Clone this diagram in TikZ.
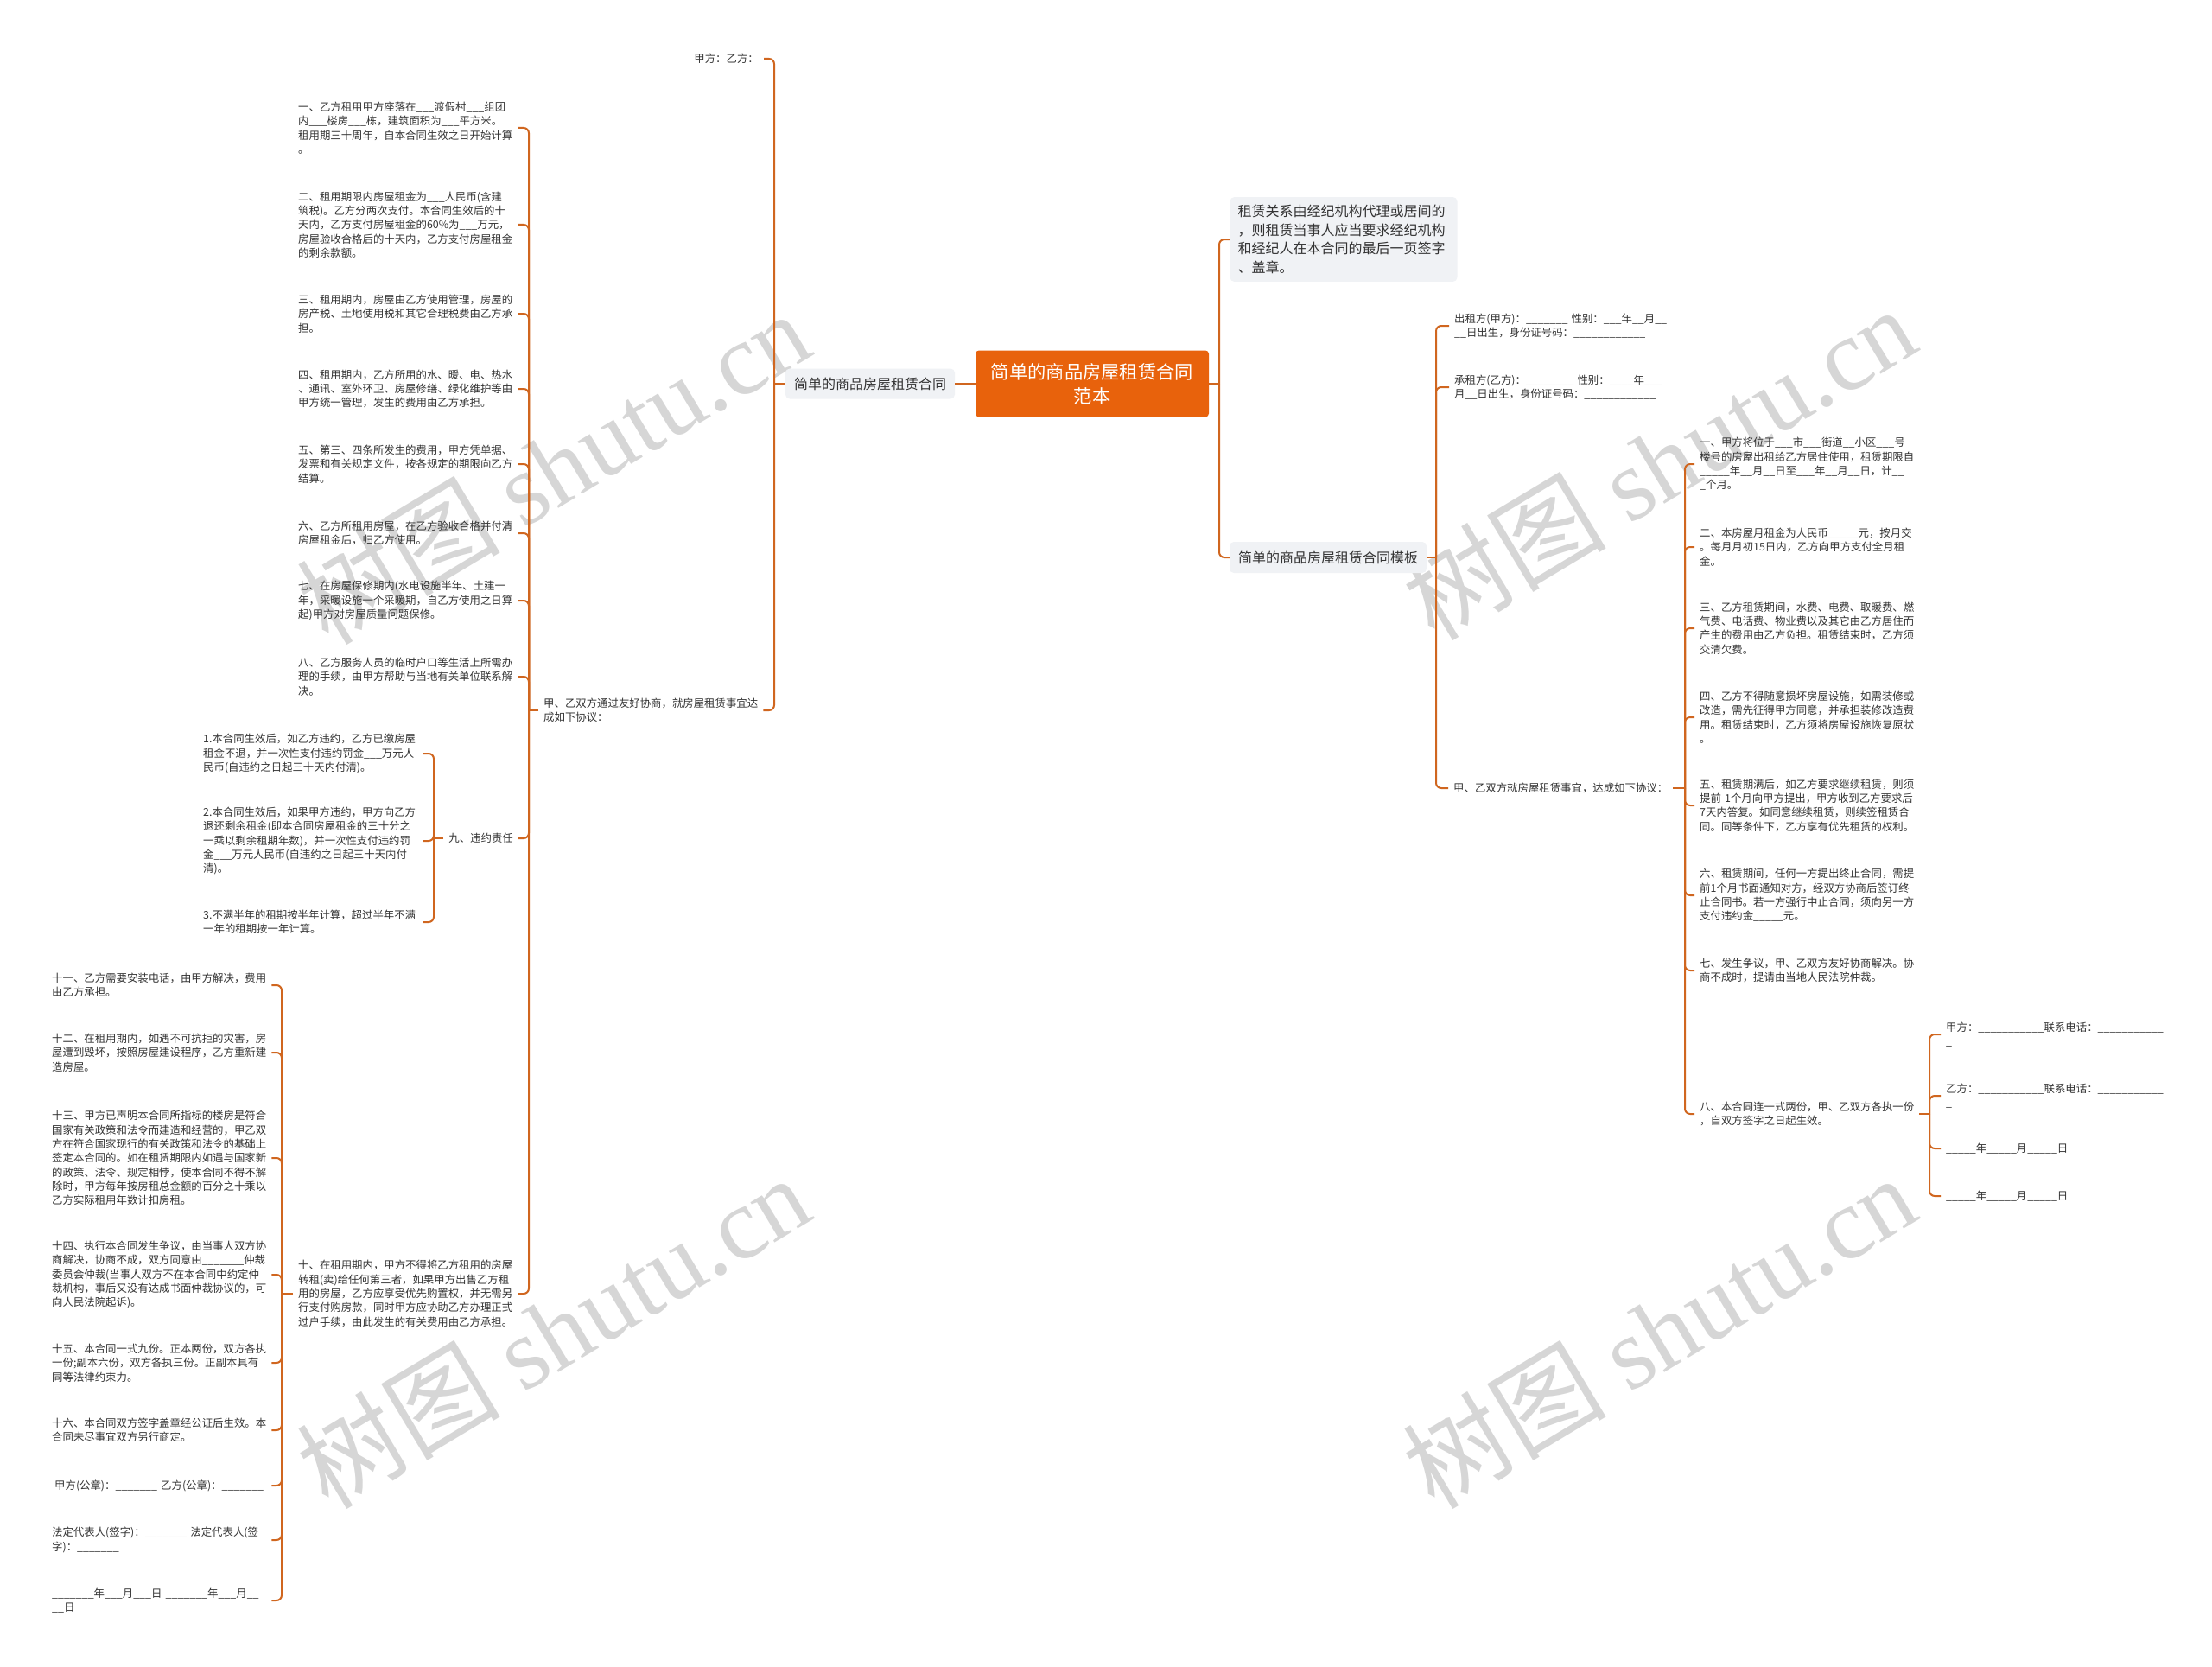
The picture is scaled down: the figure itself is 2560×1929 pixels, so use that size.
\documentclass[tikz,border=0pt]{standalone}
\usepackage{fontspec}
\setmainfont{Noto Sans CJK SC}
\newfontfamily\wmserif{Liberation Serif}
\definecolor{linkc}{HTML}{D0661F}
\definecolor{mainc}{HTML}{E8620C}
\definecolor{boxc}{HTML}{F0F2F5}
\definecolor{textc}{HTML}{333333}
\definecolor{wmc}{HTML}{D6D6D6}
\tikzset{
  link/.style={draw=linkc, line width=2pt, rounded corners=6pt},
  txt/.style={font=\fontsize{12.4}{16.3}\selectfont, text=textc, align=left, inner xsep=6pt, inner ysep=3pt},
  para/.style={txt, text width=248pt},
  gbox/.style={fill=boxc, rounded corners=5pt, text=textc, font=\fontsize{16}{21.7}\selectfont},
  mainbox/.style={fill=mainc, rounded corners=4pt, text=white, font=\fontsize{21.3}{28}\selectfont, align=center, minimum width=270pt, minimum height=77pt},
  wm/.style={rotate=31, text=wmc, font=\fontsize{118}{118}\selectfont}
}
\begin{document}
\begin{tikzpicture}[x=1pt,y=-1pt]
\useasboundingbox (0,0) rectangle (2560,1929);
\fill[white] (0,0) rectangle (2560,1929);
% watermarks
\node[wm] (w1) at (640,540) {树图~{\wmserif shutu.cn}};
\node[wm] (w2) at (640,1540) {树图~{\wmserif shutu.cn}};
\node[wm] (w3) at (1920,535) {树图~{\wmserif shutu.cn}};
\node[wm] (w4) at (1920,1540) {树图~{\wmserif shutu.cn}};

% central and main branches
\node[mainbox] (C) at (1264,444) {简单的商品房屋租赁合同\\范本};
\node[gbox, minimum width=196pt, minimum height=35pt, inner xsep=10pt] (L) at (1007,444) {简单的商品房屋租赁合同};
\node[gbox, text width=245pt, inner xsep=9pt, inner ysep=9pt, align=left] (Z) at (1555,277) {租赁关系由经纪机构代理或居间的\\，则租赁当事人应当要求经纪机构\\和经纪人在本合同的最后一页签字\\、盖章。};
\node[gbox, minimum width=228pt, minimum height=36pt] (T) at (1537,645) {简单的商品房屋租赁合同模板};

% left branch
\node[txt, anchor=east] (PA) at (884,68) {甲方：乙方：};
\node[para, anchor=west] (L2) at (623,822) {甲、乙双方通过友好协商，就房屋租赁事宜达\\成如下协议：};

\node[para, anchor=west] (a1) at (339,148) {一、乙方租用甲方座落在\_\_\_渡假村\_\_\_组团\\内\_\_\_楼房\_\_\_栋，建筑面积为\_\_\_平方米。\\租用期三十周年，自本合同生效之日开始计算\\。};
\node[para, anchor=west] (a2) at (339,260) {二、租用期限内房屋租金为\_\_\_人民币(含建\\筑税)。乙方分两次支付。本合同生效后的十\\天内，乙方支付房屋租金的60\%为\_\_\_万元，\\房屋验收合格后的十天内，乙方支付房屋租金\\的剩余款额。};
\node[para, anchor=west] (a3) at (339,363) {三、租用期内，房屋由乙方使用管理，房屋的\\房产税、土地使用税和其它合理税费由乙方承\\担。};
\node[para, anchor=west] (a4) at (339,450) {四、租用期内，乙方所用的水、暖、电、热水\\、通讯、室外环卫、房屋修缮、绿化维护等由\\甲方统一管理，发生的费用由乙方承担。};
\node[para, anchor=west] (a5) at (339,537) {五、第三、四条所发生的费用，甲方凭单据、\\发票和有关规定文件，按各规定的期限向乙方\\结算。};
\node[para, anchor=west] (a6) at (339,617) {六、乙方所租用房屋，在乙方验收合格并付清\\房屋租金后，归乙方使用。};
\node[para, anchor=west] (a7) at (339,695) {七、在房屋保修期内(水电设施半年、土建一\\年，采暖设施一个采暖期，自乙方使用之日算\\起)甲方对房屋质量问题保修。};
\node[para, anchor=west] (a8) at (339,783) {八、乙方服务人员的临时户口等生活上所需办\\理的手续，由甲方帮助与当地有关单位联系解\\决。};
\node[txt, anchor=east] (a9) at (600,970) {九、违约责任};
\node[para, anchor=west] (a10) at (339,1497) {十、在租用期内，甲方不得将乙方租用的房屋\\转租(卖)给任何第三者，如果甲方出售乙方租\\用的房屋，乙方应享受优先购置权，并无需另\\行支付购房款，同时甲方应协助乙方办理正式\\过户手续，由此发生的有关费用由乙方承担。};

\node[para, anchor=west] (b1) at (229,872) {1.本合同生效后，如乙方违约，乙方已缴房屋\\租金不退，并一次性支付违约罚金\_\_\_万元人\\民币(自违约之日起三十天内付清)。};
\node[para, anchor=west] (b2) at (229,973) {2.本合同生效后，如果甲方违约，甲方向乙方\\退还剩余租金(即本合同房屋租金的三十分之\\一乘以剩余租期年数)，并一次性支付违约罚\\金\_\_\_万元人民币(自违约之日起三十天内付\\清)。};
\node[para, anchor=west] (b3) at (229,1067) {3.不满半年的租期按半年计算，超过半年不满\\一年的租期按一年计算。};

\node[para, anchor=west] (c1) at (54,1140) {十一、乙方需要安装电话，由甲方解决，费用\\由乙方承担。};
\node[para, anchor=west] (c2) at (54,1218) {十二、在租用期内，如遇不可抗拒的灾害，房\\屋遭到毁坏，按照房屋建设程序，乙方重新建\\造房屋。};
\node[para, anchor=west] (c3) at (54,1340) {十三、甲方已声明本合同所指标的楼房是符合\\国家有关政策和法令而建造和经营的，甲乙双\\方在符合国家现行的有关政策和法令的基础上\\签定本合同的。如在租赁期限内如遇与国家新\\的政策、法令、规定相悖，使本合同不得不解\\除时，甲方每年按房租总金额的百分之十乘以\\乙方实际租用年数计扣房租。};
\node[para, anchor=west] (c4) at (54,1475) {十四、执行本合同发生争议，由当事人双方协\\商解决，协商不成，双方同意由\_\_\_\_\_\_\_仲裁\\委员会仲裁(当事人双方不在本合同中约定仲\\裁机构，事后又没有达成书面仲裁协议的，可\\向人民法院起诉)。};
\node[para, anchor=west] (c5) at (54,1577) {十五、本合同一式九份。正本两份，双方各执\\一份;副本六份，双方各执三份。正副本具有\\同等法律约束力。};
\node[para, anchor=west] (c6) at (54,1655) {十六、本合同双方签字盖章经公证后生效。本\\合同未尽事宜双方另行商定。};
\node[para, anchor=west] (c7) at (54,1719) {\hspace*{3pt}甲方(公章)：\_\_\_\_\_\_\_~乙方(公章)：\_\_\_\_\_\_\_};
\node[para, anchor=west] (c8) at (54,1782) {法定代表人(签字)：\_\_\_\_\_\_\_~法定代表人(签\\字)：\_\_\_\_\_\_\_};
\node[para, anchor=west] (c9) at (54,1852) {\_\_\_\_\_\_\_年\_\_\_月\_\_\_日~\_\_\_\_\_\_\_年\_\_\_月\_\_\\\_\_日};

% right branch
\node[para, anchor=west] (t1) at (1677,377) {出租方(甲方)：\_\_\_\_\_\_\_~性别：\_\_\_年\_\_月\_\_\\\_\_日出生，身份证号码：\_\_\_\_\_\_\_\_\_\_\_\_};
\node[para, anchor=west] (t2) at (1677,448) {承租方(乙方)：\_\_\_\_\_\_\_\_~性别：\_\_\_\_年\_\_\_\\月\_\_日出生，身份证号码：\_\_\_\_\_\_\_\_\_\_\_\_};
\node[txt, anchor=west] (R2) at (1676,912) {甲、乙双方就房屋租赁事宜，达成如下协议：};

\node[para, anchor=west] (r1) at (1961,537) {一、甲方将位于\_\_\_市\_\_\_街道\_\_小区\_\_\_号\\楼号的房屋出租给乙方居住使用，租赁期限自\\\_\_\_\_\_年\_\_月\_\_日至\_\_\_年\_\_月\_\_日，计\_\_\\\_个月。};
\node[para, anchor=west] (r2) at (1961,633) {二、本房屋月租金为人民币\_\_\_\_\_元，按月交\\。每月月初15日内，乙方向甲方支付全月租\\金。};
\node[para, anchor=west] (r3) at (1961,727) {三、乙方租赁期间，水费、电费、取暖费、燃\\气费、电话费、物业费以及其它由乙方居住而\\产生的费用由乙方负担。租赁结束时，乙方须\\交清欠费。};
\node[para, anchor=west] (r4) at (1961,830) {四、乙方不得随意损坏房屋设施，如需装修或\\改造，需先征得甲方同意，并承担装修改造费\\用。租赁结束时，乙方须将房屋设施恢复原状\\。};
\node[para, anchor=west] (r5) at (1961,932) {五、租赁期满后，如乙方要求继续租赁，则须\\提前~1个月向甲方提出，甲方收到乙方要求后\\7天内答复。如同意继续租赁，则续签租赁合\\同。同等条件下，乙方享有优先租赁的权利。};
\node[para, anchor=west] (r6) at (1961,1036) {六、租赁期间，任何一方提出终止合同，需提\\前1个月书面通知对方，经双方协商后签订终\\止合同书。若一方强行中止合同，须向另一方\\支付违约金\_\_\_\_\_元。};
\node[para, anchor=west] (r7) at (1961,1123) {七、发生争议，甲、乙双方友好协商解决。协\\商不成时，提请由当地人民法院仲裁。};
\node[para, anchor=west] (r8) at (1961,1289) {八、本合同连一式两份，甲、乙双方各执一份\\，自双方签字之日起生效。};

\node[para, anchor=west] (s1) at (2246,1197) {甲方：\_\_\_\_\_\_\_\_\_\_\_联系电话：\_\_\_\_\_\_\_\_\_\_\_\\\_};
\node[para, anchor=west] (s2) at (2246,1268) {乙方：\_\_\_\_\_\_\_\_\_\_\_联系电话：\_\_\_\_\_\_\_\_\_\_\_\\\_};
\node[para, anchor=west] (s3) at (2246,1329) {\_\_\_\_\_年\_\_\_\_\_月\_\_\_\_\_日};
\node[para, anchor=west] (s4) at (2246,1384) {\_\_\_\_\_年\_\_\_\_\_月\_\_\_\_\_日};

% junctions
\coordinate (jL) at (896,444);
\coordinate (jL2) at (612,822);
\coordinate (j9) at (502,970);
\coordinate (j10) at (326,1497);
\coordinate (jC) at (1411,444);
\coordinate (jT) at (1662,645);
\coordinate (jR2) at (1950,912);
\coordinate (jR8) at (2233,1289);

% connectors
\draw[link] (L.east) -- (C.west);
\draw[link] (L.west) -- (jL);
\foreach \n in {PA,L2} \draw[link] (jL) |- (\n.east);
\draw[link] (L2.west) -- (jL2);
\foreach \n in {a1,a2,a3,a4,a5,a6,a7,a8,a9,a10} \draw[link] (jL2) |- (\n.east);
\draw[link] (a9.west) -- (j9);
\foreach \n in {b1,b2,b3} \draw[link] (j9) |- (\n.east);
\draw[link] (a10.west) -- (j10);
\foreach \n in {c1,c2,c3,c4,c5,c6,c7,c8,c9} \draw[link] (j10) |- (\n.east);
\draw[link] (C.east) -- (jC);
\foreach \n in {Z,T} \draw[link] (jC) |- (\n.west);
\draw[link] (T.east) -- (jT);
\foreach \n in {t1,t2,R2} \draw[link] (jT) |- (\n.west);
\draw[link] (R2.east) -- (jR2);
\foreach \n in {r1,r2,r3,r4,r5,r6,r7,r8} \draw[link] (jR2) |- (\n.west);
\draw[link] (r8.east) -- (jR8);
\foreach \n in {s1,s2,s3,s4} \draw[link] (jR8) |- (\n.west);
\end{tikzpicture}
\end{document}
